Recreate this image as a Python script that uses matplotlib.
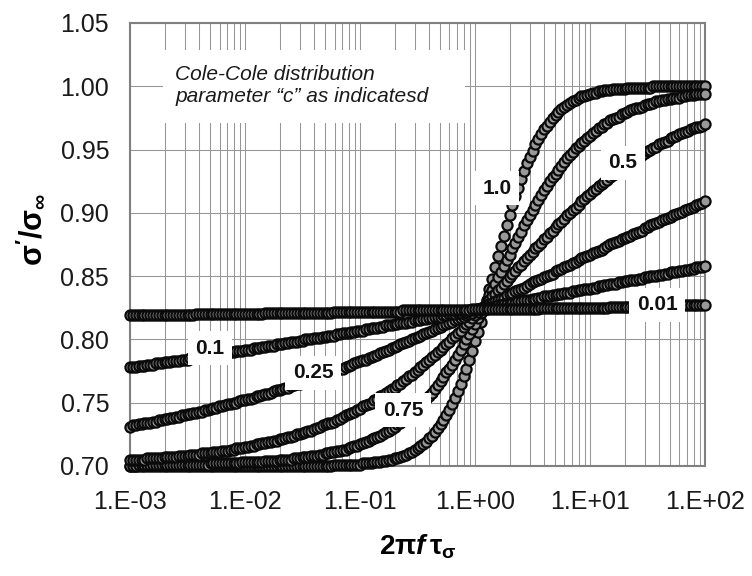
import numpy as np
import matplotlib
matplotlib.use("Agg")
import matplotlib.pyplot as plt
from matplotlib.ticker import FuncFormatter, LogLocator, NullFormatter
from matplotlib.patches import Rectangle

plt.rcParams["font.family"] = ["Liberation Sans", "DejaVu Sans"]
plt.rcParams["mathtext.fontset"] = "custom"
plt.rcParams["mathtext.rm"] = "Liberation Sans"
plt.rcParams["mathtext.bf"] = "Liberation Sans:bold"
plt.rcParams["mathtext.it"] = "Liberation Sans:italic:bold"

# 2*pi*f*tau: 201 samples, evenly spaced in log from 1E-03 to 1E+02
x_vals = np.logspace(-3, 2, 201)

# sigma'/sigma_inf, one list per Cole-Cole "c"
y_c100 = ([0.700] * 71 + [0.701] * 10 + [0.702] * 4 + [0.703] * 3 + [0.704] * 2
          + [0.705] * 2 + [0.706] * 2 + [
    0.707, 0.708, 0.709, 0.710, 0.711, 0.713, 0.714, 0.716, 0.717, 0.719,
    0.722, 0.724, 0.727, 0.730, 0.733, 0.736, 0.740, 0.744, 0.749, 0.754,
    0.759, 0.765, 0.771, 0.777, 0.784, 0.791, 0.799, 0.806, 0.814, 0.823,
    0.831, 0.840, 0.848, 0.857, 0.866, 0.874, 0.882, 0.890, 0.898, 0.906,
    0.913, 0.920, 0.927, 0.933, 0.939, 0.944, 0.949, 0.954, 0.958, 0.962,
    0.966, 0.969, 0.972, 0.975, 0.977, 0.980, 0.982, 0.984, 0.985, 0.987,
    0.988, 0.989, 0.991, 0.992, 0.992, 0.993, 0.994, 0.995, 0.995, 0.996, 0.996]
    + [0.997] * 3 + [0.998] * 5 + [0.999] * 9 + [1.000] * 19)

y_c075 = ([0.700] * 3 + [0.701] * 25 + [0.702] * 11 + [0.703] * 8 + [0.704] * 5
          + [0.705] * 5 + [0.706] * 3 + [0.707] * 3 + [0.708] * 3 + [0.709] * 2
          + [0.710] * 2 + [0.711] * 2 + [
    0.712, 0.712, 0.713, 0.713, 0.714, 0.715, 0.716, 0.716,
    0.717, 0.718, 0.719, 0.720, 0.721, 0.722, 0.723, 0.724,
    0.725, 0.727, 0.728, 0.729, 0.731, 0.733, 0.734, 0.736,
    0.738, 0.740, 0.742, 0.744, 0.746, 0.748, 0.751, 0.753,
    0.755, 0.758, 0.761, 0.764, 0.767, 0.770, 0.774, 0.777,
    0.780, 0.784, 0.788, 0.792, 0.796, 0.800, 0.804, 0.808,
    0.812, 0.817, 0.821, 0.826, 0.830, 0.835, 0.839, 0.844,
    0.849, 0.853, 0.858, 0.863, 0.867, 0.872, 0.876, 0.881,
    0.885, 0.890, 0.894, 0.898, 0.902, 0.906, 0.910, 0.914,
    0.918, 0.921, 0.925, 0.928, 0.931, 0.934, 0.937, 0.940,
    0.943, 0.946, 0.948, 0.951, 0.953, 0.955, 0.957, 0.959,
    0.961, 0.963, 0.965, 0.967, 0.968, 0.970, 0.971, 0.973,
    0.974, 0.975, 0.976, 0.978, 0.979, 0.980, 0.981, 0.982,
    0.983, 0.983, 0.984, 0.985, 0.986, 0.986, 0.987, 0.988,
    0.988, 0.989, 0.989, 0.990, 0.990, 0.991, 0.991, 0.991,
    0.992, 0.992, 0.993, 0.993, 0.993, 0.994, 0.994, 0.994, 0.994])

y_c050 = ([0.705] * 6 + [0.706] * 6 + [0.707] * 5 + [0.708] * 4 + [0.709] * 4
          + [0.710] * 4 + [0.711] * 3 + [0.712] * 3 + [0.713] * 2 + [0.714] * 3
          + [0.715] * 2 + [0.716] * 2 + [0.717] * 2 + [0.718] * 2 + [0.719] * 2
          + [0.720] * 2 + [
    0.721, 0.721, 0.722, 0.723, 0.723, 0.724, 0.725, 0.725,
    0.726, 0.727, 0.728, 0.728, 0.729, 0.730, 0.731, 0.732,
    0.733, 0.734, 0.734, 0.735, 0.736, 0.737, 0.739, 0.740,
    0.741, 0.742, 0.743, 0.744, 0.745, 0.747, 0.748, 0.749,
    0.750, 0.752, 0.753, 0.755, 0.756, 0.758, 0.759, 0.761,
    0.762, 0.764, 0.765, 0.767, 0.769, 0.771, 0.772, 0.774,
    0.776, 0.778, 0.780, 0.782, 0.784, 0.786, 0.788, 0.790,
    0.792, 0.794, 0.796, 0.798, 0.801, 0.803, 0.805, 0.807,
    0.810, 0.812, 0.814, 0.817, 0.819, 0.822, 0.824, 0.826,
    0.829, 0.831, 0.834, 0.836, 0.839, 0.841, 0.844, 0.846,
    0.849, 0.852, 0.854, 0.857, 0.859, 0.862, 0.864, 0.867,
    0.869, 0.872, 0.874, 0.876, 0.879, 0.881, 0.884, 0.886,
    0.889, 0.891, 0.893, 0.895, 0.898, 0.900, 0.902, 0.904,
    0.906, 0.909, 0.911, 0.913, 0.915, 0.917, 0.919, 0.921,
    0.923, 0.924, 0.926, 0.928, 0.930, 0.932, 0.933, 0.935,
    0.937, 0.938, 0.940, 0.941, 0.943, 0.944, 0.946, 0.947,
    0.949, 0.950, 0.951, 0.952, 0.954, 0.955, 0.956, 0.957,
    0.959, 0.960, 0.961, 0.962, 0.963, 0.964, 0.965, 0.966,
    0.967, 0.968, 0.968, 0.969, 0.970])

y_c025 = [
    0.731, 0.732, 0.732, 0.733, 0.733, 0.734, 0.734, 0.734,
    0.735, 0.735, 0.736, 0.736, 0.737, 0.737, 0.738, 0.738,
    0.739, 0.739, 0.740, 0.740, 0.741, 0.741, 0.742, 0.742,
    0.743, 0.743, 0.744, 0.744, 0.745, 0.746, 0.746, 0.747,
    0.747, 0.748, 0.749, 0.749, 0.750, 0.750, 0.751, 0.752,
    0.752, 0.753, 0.753, 0.754, 0.755, 0.755, 0.756, 0.757,
    0.757, 0.758, 0.759, 0.760, 0.760, 0.761, 0.762, 0.762,
    0.763, 0.764, 0.765, 0.765, 0.766, 0.767, 0.768, 0.768,
    0.769, 0.770, 0.771, 0.772, 0.772, 0.773, 0.774, 0.775,
    0.776, 0.777, 0.777, 0.778, 0.779, 0.780, 0.781, 0.782,
    0.783, 0.784, 0.784, 0.785, 0.786, 0.787, 0.788, 0.789,
    0.790, 0.791, 0.792, 0.793, 0.794, 0.795, 0.796, 0.797,
    0.798, 0.799, 0.800, 0.801, 0.802, 0.803, 0.804, 0.805,
    0.806, 0.807, 0.808, 0.809, 0.810, 0.811, 0.812, 0.813,
    0.814, 0.815, 0.816, 0.817, 0.818, 0.819, 0.820, 0.821,
    0.823, 0.824, 0.825, 0.826, 0.827, 0.828, 0.829, 0.830,
    0.831, 0.832, 0.833, 0.835, 0.836, 0.837, 0.838, 0.839,
    0.840, 0.841, 0.842, 0.844, 0.845, 0.846, 0.847, 0.848,
    0.849, 0.850, 0.851, 0.852, 0.854, 0.855, 0.856, 0.857,
    0.858, 0.859, 0.860, 0.861, 0.863, 0.864, 0.865, 0.866,
    0.867, 0.868, 0.869, 0.870, 0.871, 0.872, 0.874, 0.875,
    0.876, 0.877, 0.878, 0.879, 0.880, 0.881, 0.882, 0.883,
    0.884, 0.885, 0.886, 0.888, 0.889, 0.890, 0.891, 0.892,
    0.893, 0.894, 0.895, 0.896, 0.897, 0.898, 0.899, 0.900,
    0.901, 0.902, 0.903, 0.904, 0.905, 0.906, 0.907, 0.908,
    0.909]

y_c010 = [
    0.778, 0.778, 0.778, 0.779, 0.779, 0.779, 0.780, 0.780, 0.780, 0.781,
    0.781, 0.781, 0.782, 0.782, 0.782, 0.783, 0.783, 0.783, 0.784, 0.784,
    0.784, 0.785, 0.785, 0.785, 0.786, 0.786, 0.787, 0.787, 0.787, 0.788,
    0.788, 0.788, 0.789, 0.789, 0.789, 0.790, 0.790, 0.791, 0.791, 0.791,
    0.792, 0.792, 0.792, 0.793, 0.793, 0.793, 0.794, 0.794, 0.795, 0.795,
    0.795, 0.796, 0.796, 0.796, 0.797, 0.797, 0.798, 0.798, 0.798, 0.799,
    0.799, 0.800, 0.800, 0.800, 0.801, 0.801, 0.801, 0.802, 0.802, 0.803,
    0.803, 0.803, 0.804, 0.804, 0.805, 0.805, 0.805, 0.806, 0.806, 0.807,
    0.807, 0.807, 0.808, 0.808, 0.809, 0.809, 0.809, 0.810, 0.810, 0.811,
    0.811, 0.811, 0.812, 0.812, 0.813, 0.813, 0.813, 0.814, 0.814, 0.815,
    0.815, 0.815, 0.816, 0.816, 0.817, 0.817, 0.818, 0.818, 0.818, 0.819,
    0.819, 0.820, 0.820, 0.820, 0.821, 0.821, 0.822, 0.822, 0.823, 0.823,
    0.823, 0.824, 0.824, 0.825, 0.825, 0.825, 0.826, 0.826, 0.827, 0.827,
    0.828, 0.828, 0.828, 0.829, 0.829, 0.830, 0.830, 0.831, 0.831, 0.831,
    0.832, 0.832, 0.833, 0.833, 0.834, 0.834, 0.834, 0.835, 0.835, 0.836,
    0.836, 0.837, 0.837, 0.837, 0.838, 0.838, 0.839, 0.839, 0.840, 0.840,
    0.840, 0.841, 0.841, 0.842, 0.842, 0.843, 0.843, 0.844, 0.844, 0.844,
    0.845, 0.845, 0.846, 0.846, 0.847, 0.847, 0.847, 0.848, 0.848, 0.849,
    0.849, 0.850, 0.850, 0.850, 0.851, 0.851, 0.852, 0.852, 0.853, 0.853,
    0.853, 0.854, 0.854, 0.855, 0.855, 0.856, 0.856, 0.857, 0.857, 0.857,
    0.858]

y_c001 = ([0.819] * 23 + [0.820] * 24 + [0.821] * 24 + [0.822] * 24 + [0.823] * 24
          + [0.824] * 24 + [0.825] * 24 + [0.826] * 24 + [0.827] * 10)

# drawing order as in the sheet: c = 1.0 at the bottom, 0.01 on top
series = [y_c100, y_c075, y_c050, y_c025, y_c010, y_c001]

curve_labels = ["1.0", "0.75", "0.5", "0.25", "0.1", "0.01"]
label_x = [1.55, 0.2366, 19.4, 0.039, 0.00497, 38.3]
label_y = [0.9196, 0.7442, 0.9394, 0.7735, 0.7932, 0.8272]

y_ticks = [0.70, 0.75, 0.80, 0.85, 0.90, 0.95, 1.00, 1.05]

fig = plt.figure(figsize=(7.52, 5.76), dpi=100)
ax = fig.add_axes([0.1729, 0.1910, 0.7646, 0.7691])

for yv in series:
    ax.plot(x_vals, yv, "o", ms=7.3, mfc="#999999", mec="#0a0a0a", mew=1.6,
            clip_on=False, zorder=3)

ax.set_xscale("log")
ax.set_xlim(1e-3, 1e2)
ax.set_ylim(0.70, 1.05)
ax.set_yticks(y_ticks)
ax.yaxis.set_major_formatter(FuncFormatter(lambda v, p: f"{v:.2f}"))
ax.xaxis.set_major_locator(LogLocator(base=10, numticks=10))
ax.xaxis.set_minor_locator(LogLocator(base=10, subs=np.arange(2, 10), numticks=100))
ax.xaxis.set_minor_formatter(NullFormatter())
ax.xaxis.set_major_formatter(FuncFormatter(lambda v, p: f"1.E{int(round(np.log10(v))):+03d}"))

ax.tick_params(axis="both", which="both", length=0, labelsize=18, colors="#1a1a1a")
ax.tick_params(axis="x", pad=17)
ax.tick_params(axis="y", pad=15)

ax.set_axisbelow(True)
ax.grid(True, which="major", axis="both", color="#969696", lw=0.75)
ax.grid(True, which="minor", axis="x", color="#969696", lw=0.75)
for sp in ax.spines.values():
    sp.set_color("#808080")
    sp.set_linewidth(1.5)

# note box in the upper left
ax.add_patch(Rectangle((0.0574, 0.7743), 0.5252, 0.1648, transform=ax.transAxes,
                       facecolor="white", edgecolor="none", zorder=1.5))
ax.text(0.0783, 0.860, "Cole-Cole distribution\nparameter \u201cc\u201d as indicatesd",
        transform=ax.transAxes, ha="left", va="center", fontsize=15,
        style="italic", color="#1a1a1a", zorder=4)

for lab, lx, ly in zip(curve_labels, label_x, label_y):
    ax.text(lx, ly, lab, ha="center", va="center", fontsize=15, fontweight="bold",
            color="#111111", zorder=10,
            bbox=dict(boxstyle="square,pad=0.35", fc="white", ec="none"))

fig.text(0.0426, 0.601, r"$\mathbf{σ'/σ_{∞}}$", rotation=90, fontsize=22,
         ha="center", va="center")
fig.text(0.5559, 0.0503, r"$\mathbf{2π}\mathit{f}\,\mathbf{τ_{σ}}$", fontsize=20,
         ha="center", va="center")

fig.savefig("out.png", dpi=100)
plt.close(fig)
